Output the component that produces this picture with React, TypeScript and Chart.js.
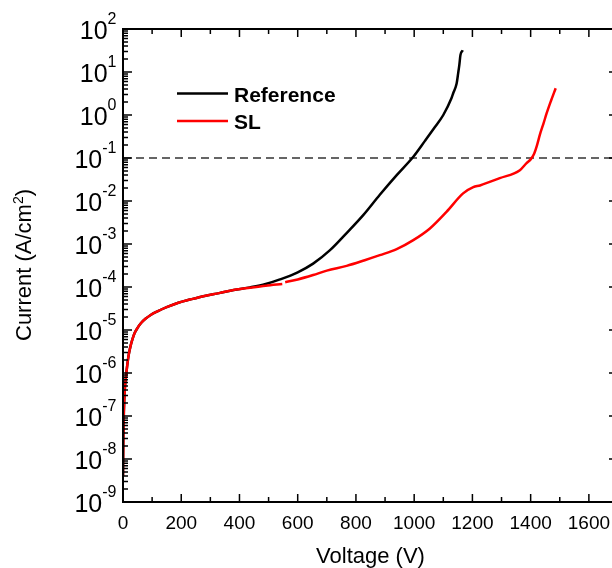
import React, { useEffect, useRef } from "react";
import { Chart, registerables } from "chart.js";

Chart.register(...registerables);

// ---------- data ----------
const seriesNames = ["Reference", "SL"];

const refVoltage = [0, 1, 3, 6, 10, 14, 19, 25, 32, 40, 50, 62, 77, 95, 120, 150, 190, 230, 280, 330, 380, 436, 490, 539, 600, 653, 711, 768, 825, 882, 940, 997, 1037, 1070, 1100, 1128, 1134, 1146, 1151, 1155, 1159, 1167];
const refCurrent = [4.0e-9, 2.5e-8, 1.26e-7, 4.0e-7, 7.9e-7, 1.41e-6, 2.5e-6, 4.0e-6, 6.0e-6, 8.5e-6, 1.12e-5, 1.45e-5, 1.82e-5, 2.24e-5, 2.75e-5, 3.4e-5, 4.3e-5, 5.1e-5, 6.2e-5, 7.2e-5, 8.5e-5, 9.8e-5, 1.17e-4, 1.5e-4, 2.2e-4, 3.5e-4, 7.2e-4, 1.8e-3, 4.7e-3, 1.4e-2, 4.0e-2, 0.107, 0.25, 0.51, 1.0, 2.45, 3.2, 5.5, 9.3, 14.5, 25, 32];

const slVoltage = [0, 1, 3, 6, 10, 14, 19, 25, 32, 40, 50, 62, 77, 95, 120, 150, 190, 230, 280, 330, 380, 436, 490, 547, 552, 557, 600, 653, 700, 768, 830, 882, 940, 997, 1054, 1111, 1168, 1203, 1226, 1294, 1363, 1386, 1400, 1412, 1422, 1432, 1444, 1455, 1470, 1486];
const slCurrent = [4.0e-9, 2.5e-8, 1.26e-7, 4.0e-7, 7.9e-7, 1.41e-6, 2.5e-6, 4.0e-6, 6.0e-6, 8.5e-6, 1.12e-5, 1.45e-5, 1.82e-5, 2.24e-5, 2.75e-5, 3.4e-5, 4.3e-5, 5.1e-5, 6.2e-5, 7.2e-5, 8.5e-5, 9.6e-5, 1.07e-4, 1.17e-4, null, 1.29e-4, 1.5e-4, 1.9e-4, 2.4e-4, 3.1e-4, 4.2e-4, 5.5e-4, 7.6e-4, 1.23e-3, 2.3e-3, 5.6e-3, 1.5e-2, 2.1e-2, 2.3e-2, 3.4e-2, 5.2e-2, 7.6e-2, 9.3e-2, 0.126, 0.2, 0.355, 0.63, 1.1, 2.15, 4.2];

const thresholdCurrent = 0.1;

const xMin = 0;
const xMax = 1700;
const xTickValues = [0, 200, 400, 600, 800, 1000, 1200, 1400, 1600];
const yMin = 1e-9;
const yMax = 1e2;
const yExponents = [2, 1, 0, -1, -2, -3, -4, -5, -6, -7, -8, -9];

const xAxisTitle = "Voltage (V)";
const yAxisTitleMain = "Current (A/cm";
const yAxisTitleSup = "2";
const yAxisTitleEnd = ")";

const FONT = "'Liberation Sans', Arial, Helvetica, sans-serif";

const toPoints = (xs: number[], ys: (number | null)[]) =>
  xs.map((x, i) => ({ x, y: ys[i] }));

const framePlugin = {
  id: "framePlugin",
  afterDraw(chart: any) {
    const ctx: CanvasRenderingContext2D = chart.ctx;
    const { left, right, top, bottom } = chart.chartArea;
    const xs = chart.scales.x;
    const ys = chart.scales.y;
    ctx.save();

    // frame
    ctx.strokeStyle = "#000";
    ctx.lineWidth = 2;
    ctx.strokeRect(left, top, right - left, bottom - top);

    // ticks
    ctx.lineWidth = 1.5;
    ctx.beginPath();
    for (const e of yExponents) {
      const y = ys.getPixelForValue(Math.pow(10, e));
      ctx.moveTo(left, y);
      ctx.lineTo(left + 9, y);
      ctx.moveTo(right, y);
      ctx.lineTo(right - 9, y);
    }
    for (let e = -9; e < 2; e++) {
      for (let m = 2; m <= 9; m++) {
        const y = ys.getPixelForValue(m * Math.pow(10, e));
        ctx.moveTo(left, y);
        ctx.lineTo(left + 5, y);
      }
    }
    for (let v = xMin; v <= xMax; v += 100) {
      const x = xs.getPixelForValue(v);
      const len = v % 200 === 0 ? 8 : 5;
      ctx.moveTo(x, bottom);
      ctx.lineTo(x, bottom - len);
      ctx.moveTo(x, top);
      ctx.lineTo(x, top + len);
    }
    ctx.stroke();

    // x tick labels
    ctx.fillStyle = "#000";
    ctx.font = `19px ${FONT}`;
    ctx.textAlign = "center";
    ctx.textBaseline = "alphabetic";
    for (const v of xTickValues) {
      ctx.fillText(String(v), xs.getPixelForValue(v), 528.5);
    }

    // y tick labels 10^e
    const labelRight = 116.5;
    for (const e of yExponents) {
      const y = ys.getPixelForValue(Math.pow(10, e));
      const sup = String(e);
      ctx.font = `16px ${FONT}`;
      const supW = ctx.measureText(sup).width;
      ctx.textAlign = "left";
      ctx.fillText(sup, labelRight - supW, y - 4.7);
      ctx.font = `25px ${FONT}`;
      ctx.textAlign = "right";
      ctx.fillText("10", labelRight - supW, y + 9.5);
    }

    // x axis title
    ctx.font = `22px ${FONT}`;
    ctx.textAlign = "center";
    ctx.fillText(xAxisTitle, (left + right) / 2, 563);

    // y axis title (rotated)
    ctx.save();
    ctx.translate(31, 265);
    ctx.rotate(-Math.PI / 2);
    ctx.font = `22px ${FONT}`;
    const wMain = ctx.measureText(yAxisTitleMain).width;
    const wEnd = ctx.measureText(yAxisTitleEnd).width;
    ctx.font = `14px ${FONT}`;
    const wSup = ctx.measureText(yAxisTitleSup).width;
    const total = wMain + wSup + wEnd;
    let cx = -total / 2;
    ctx.textAlign = "left";
    ctx.font = `22px ${FONT}`;
    ctx.fillText(yAxisTitleMain, cx, 0);
    cx += wMain;
    ctx.font = `14px ${FONT}`;
    ctx.fillText(yAxisTitleSup, cx, -8);
    cx += wSup;
    ctx.font = `22px ${FONT}`;
    ctx.fillText(yAxisTitleEnd, cx, 0);
    ctx.restore();

    // legend
    const legendColors = ["#000000", "#ff0000"];
    const legendY = [93.5, 121];
    ctx.lineWidth = 2.5;
    ctx.font = `bold 21px ${FONT}`;
    ctx.textAlign = "left";
    seriesNames.forEach((name, i) => {
      ctx.strokeStyle = legendColors[i];
      ctx.beginPath();
      ctx.moveTo(177, legendY[i]);
      ctx.lineTo(228, legendY[i]);
      ctx.stroke();
      ctx.fillStyle = "#000";
      ctx.fillText(name, 234, legendY[i] + 8);
    });

    ctx.restore();
  },
};

export default function App() {
  const canvasRef = useRef<HTMLCanvasElement | null>(null);

  useEffect(() => {
    if (!canvasRef.current) return;
    const chart = new Chart(canvasRef.current, {
      type: "line",
      data: {
        datasets: [
          {
            label: "threshold",
            data: [
              { x: xMin, y: thresholdCurrent },
              { x: xMax, y: thresholdCurrent },
            ],
            borderColor: "#333333",
            borderWidth: 1.5,
            borderDash: [8, 5],
            pointRadius: 0,
            order: 3,
          },
          {
            label: seriesNames[0],
            data: toPoints(refVoltage, refCurrent),
            borderColor: "#000000",
            borderWidth: 2.5,
            pointRadius: 0,
            cubicInterpolationMode: "monotone",
            order: 2,
          },
          {
            label: seriesNames[1],
            data: toPoints(slVoltage, slCurrent),
            borderColor: "#ff0000",
            borderWidth: 2.5,
            pointRadius: 0,
            cubicInterpolationMode: "monotone",
            spanGaps: false,
            order: 1,
          },
        ],
      },
      options: {
        responsive: false,
        devicePixelRatio: 1,
        animation: false,
        layout: { padding: { left: 123, top: 29, right: 22, bottom: 66 } },
        scales: {
          x: { type: "linear", min: xMin, max: xMax, display: false },
          y: { type: "logarithmic", min: yMin, max: yMax, display: false },
        },
        plugins: {
          legend: { display: false },
          tooltip: { enabled: false },
        },
      },
      plugins: [framePlugin],
    } as any);
    return () => chart.destroy();
  }, []);

  return (
    <div
      style={{
        position: "absolute",
        left: 0,
        top: 0,
        width: 612,
        height: 568,
        overflow: "hidden",
        background: "#fff",
      }}
    >
      <canvas
        ref={canvasRef}
        width={640}
        height={568}
        style={{ width: 640, height: 568, display: "block" }}
      />
    </div>
  );
}
